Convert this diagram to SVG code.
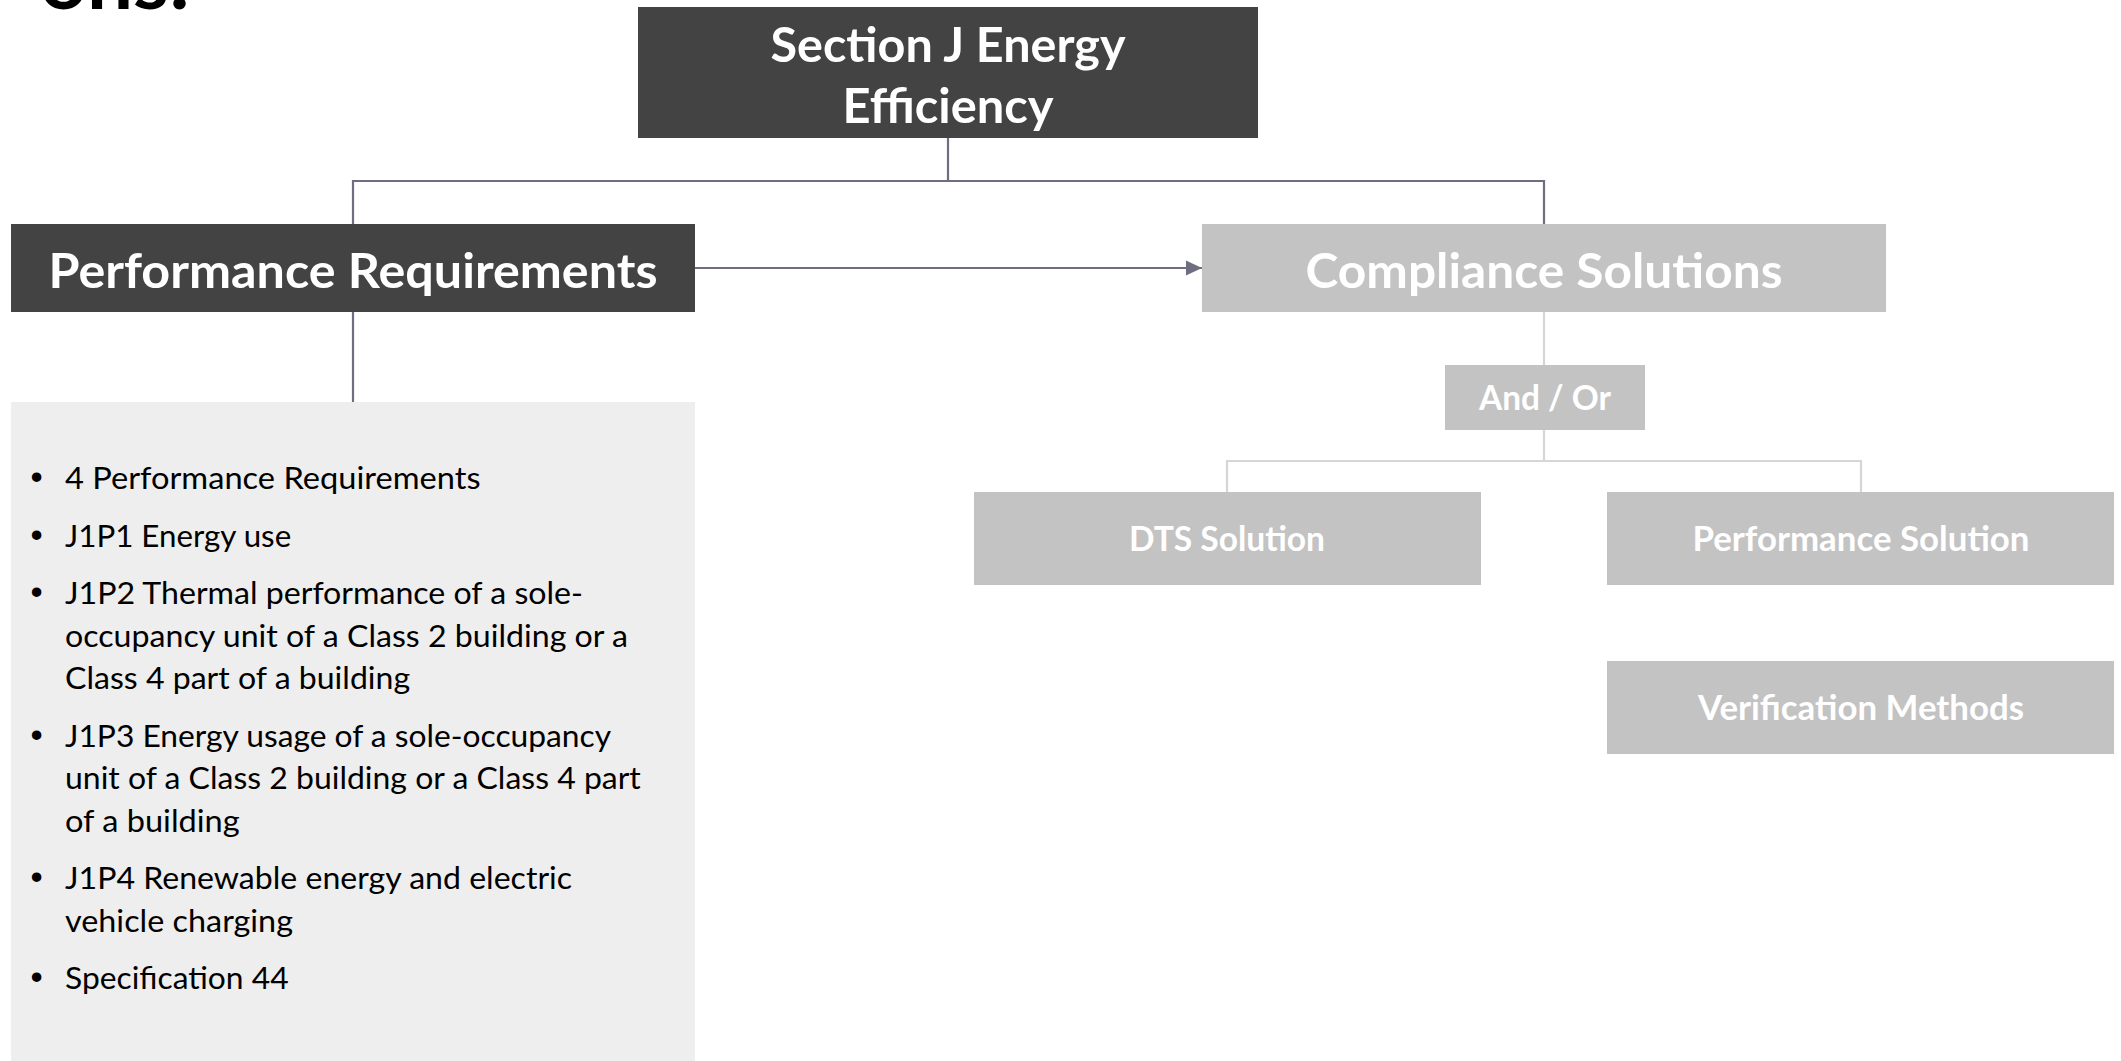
<svg xmlns="http://www.w3.org/2000/svg" width="2121" height="1061" viewBox="0 0 2121 1061">
  <style>
    .dark { fill: #434343; }
    .light { fill: #c3c3c3; }
    .panel { fill: #eeeeee; }
    .big { font-family: Lato, "Open Sans", sans-serif; font-weight: 700; font-size: 48px; fill: #ffffff; text-anchor: middle; }
    .small { font-family: Lato, "Open Sans", sans-serif; font-weight: 700; font-size: 33.5px; fill: #ffffff; text-anchor: middle; }
    .item { font-family: Lato, "Open Sans", sans-serif; font-size: 31.3px; fill: #000000; }
    .dot { font-family: "Liberation Sans", Arial, sans-serif; font-size: 34.8px; fill: #000000; text-anchor: middle; }
    .title { font-family: Lato, "Open Sans", sans-serif; font-weight: 700; font-size: 80px; fill: #000000; }
    .link { fill: none; stroke: #6e6e80; stroke-width: 2.2; }
    .sublink { fill: none; stroke: #d6d6d6; stroke-width: 2.2; }
  </style>
  <defs>
    <marker id="arrow" markerUnits="userSpaceOnUse" markerWidth="16" markerHeight="16" viewBox="0 0 16 16" refX="16" refY="8" orient="auto">
      <path d="M0,0.5 L16,8 L0,15.5 Z" fill="#6e6e80"/>
    </marker>
  </defs>

  <rect width="2121" height="1061" fill="#ffffff"/>

  <!-- page heading, mostly above the top edge -->
  <text class="title" x="40" y="9" textLength="150" lengthAdjust="spacingAndGlyphs">ons:</text>

  <!-- connectors -->
  <g id="connectors">
    <path class="link" d="M948,138 V181 M353,224 V181 H1544 V224"/>
    <path class="link" d="M353,312 V402"/>
    <path class="link" d="M695,268 H1202" marker-end="url(#arrow)"/>
    <path class="sublink" d="M1544,312 V365"/>
    <path class="sublink" d="M1544,430 V461 M1227,492 V461 H1861 V492"/>
  </g>

  <g id="section-j">
    <rect class="dark" x="638" y="7" width="620" height="131"/>
    <text class="big" x="948" y="62" textLength="355" lengthAdjust="spacingAndGlyphs">Section J Energy</text>
    <text class="big" x="948" y="123" textLength="211" lengthAdjust="spacingAndGlyphs">Efficiency</text>
  </g>

  <g id="performance-requirements">
    <rect class="dark" x="11" y="224" width="684" height="88"/>
    <text class="big" x="353" y="288" textLength="609" lengthAdjust="spacingAndGlyphs">Performance Requirements</text>
  </g>

  <g id="compliance-solutions">
    <rect class="light" x="1202" y="224" width="684" height="88"/>
    <text class="big" x="1544" y="288" textLength="477" lengthAdjust="spacingAndGlyphs">Compliance Solutions</text>
  </g>

  <g id="and-or">
    <rect class="light" x="1445" y="365" width="200" height="65"/>
    <text class="small" x="1545" y="410" textLength="132" lengthAdjust="spacingAndGlyphs">And / Or</text>
  </g>

  <g id="dts-solution">
    <rect class="light" x="974" y="492" width="507" height="93"/>
    <text class="small" x="1227" y="551" textLength="196" lengthAdjust="spacingAndGlyphs">DTS Solution</text>
  </g>

  <g id="performance-solution">
    <rect class="light" x="1607" y="492" width="507" height="93"/>
    <text class="small" x="1861" y="551" textLength="337" lengthAdjust="spacingAndGlyphs">Performance Solution</text>
  </g>

  <g id="verification-methods">
    <rect class="light" x="1607" y="661" width="507" height="93"/>
    <text class="small" x="1861" y="720" textLength="326" lengthAdjust="spacingAndGlyphs">Verification Methods</text>
  </g>

  <g id="requirements-list">
    <rect class="panel" x="11" y="402" width="684" height="659"/>
    <text class="dot" x="36.5" y="489">•</text>
    <text class="item" x="65" y="489" textLength="415.6" lengthAdjust="spacingAndGlyphs">4 Performance Requirements</text>
    <text class="dot" x="36.5" y="546.5">•</text>
    <text class="item" x="65" y="546.5" textLength="226.2" lengthAdjust="spacingAndGlyphs">J1P1 Energy use</text>
    <text class="dot" x="36.5" y="604">•</text>
    <text class="item" x="65" y="604" textLength="518" lengthAdjust="spacingAndGlyphs">J1P2 Thermal performance of a sole-</text>
    <text class="item" x="65" y="646.5" textLength="563" lengthAdjust="spacingAndGlyphs">occupancy unit of a Class 2 building or a</text>
    <text class="item" x="65" y="689" textLength="345.1" lengthAdjust="spacingAndGlyphs">Class 4 part of a building</text>
    <text class="dot" x="36.5" y="746.5">•</text>
    <text class="item" x="65" y="746.5" textLength="546.1" lengthAdjust="spacingAndGlyphs">J1P3 Energy usage of a sole-occupancy</text>
    <text class="item" x="65" y="789" textLength="575.8" lengthAdjust="spacingAndGlyphs">unit of a Class 2 building or a Class 4 part</text>
    <text class="item" x="65" y="831.5" textLength="174.7" lengthAdjust="spacingAndGlyphs">of a building</text>
    <text class="dot" x="36.5" y="889">•</text>
    <text class="item" x="65" y="889" textLength="507.1" lengthAdjust="spacingAndGlyphs">J1P4 Renewable energy and electric</text>
    <text class="item" x="65" y="931.5" textLength="228" lengthAdjust="spacingAndGlyphs">vehicle charging</text>
    <text class="dot" x="36.5" y="989">•</text>
    <text class="item" x="65" y="989" textLength="223.6" lengthAdjust="spacingAndGlyphs">Specification 44</text>
  </g>
</svg>
